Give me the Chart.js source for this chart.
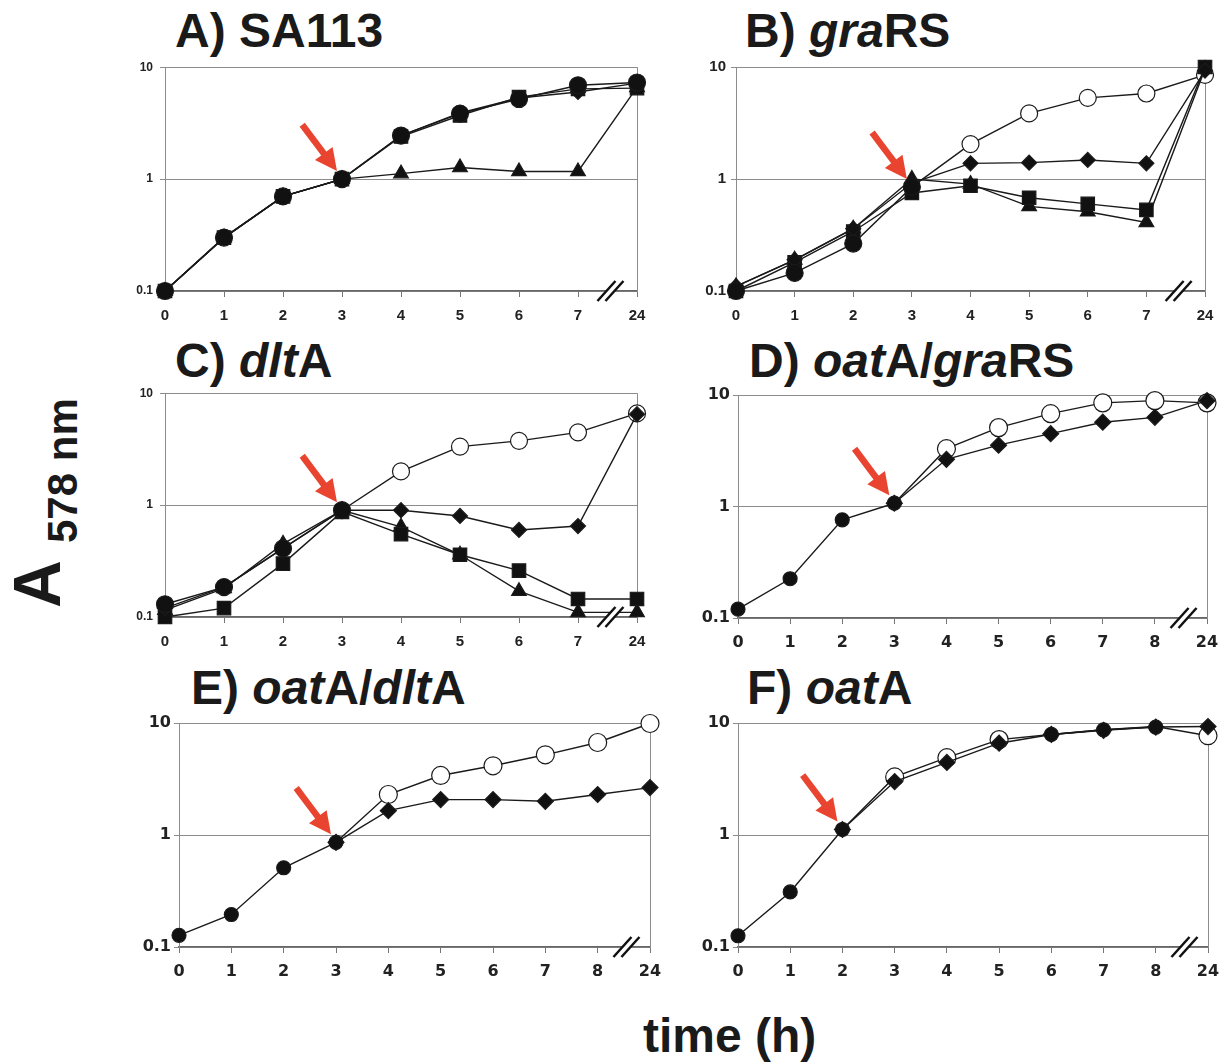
<!DOCTYPE html>
<html><head><meta charset="utf-8">
<script src="https://cdn.jsdelivr.net/npm/chart.js@4.4.1/dist/chart.umd.min.js"></script>
<style>
html,body{margin:0;padding:0;background:#fff;}
#wrap{position:relative;width:1230px;height:1062px;overflow:hidden;background:#fff;}
canvas{position:absolute;}
.ttl{position:absolute;font-family:"Liberation Sans",Arial,sans-serif;font-weight:bold;font-size:48px;line-height:48px;color:#1a1a1a;white-space:nowrap;}
.rot{position:absolute;transform-origin:0 0;transform:rotate(-90deg);font-family:"Liberation Sans",Arial,sans-serif;font-weight:bold;white-space:nowrap;color:#1a1a1a;}
</style></head><body><div id="wrap">
<div class="ttl" style="left:175px;top:7px;">A) SA113</div>
<div class="ttl" style="left:745px;top:7px;">B) <i>gra</i>RS</div>
<div class="ttl" style="left:175px;top:337px;">C) <i>dlt</i>A</div>
<div class="ttl" style="left:749px;top:337px;">D) <i>oat</i>A/<i>gra</i>RS</div>
<div class="ttl" style="left:191px;top:664px;">E) <i>oat</i>A/<i>dlt</i>A</div>
<div class="ttl" style="left:747px;top:664px;">F) <i>oat</i>A</div>
<div class="rot" style="left:4px;top:608px;font-size:66px;line-height:66px;">A</div>
<div class="rot" style="left:42px;top:543px;font-size:42px;line-height:42px;">578 nm</div>
<div class="rot" style="left:643px;top:1012px;font-size:48px;line-height:48px;transform:none;">time (h)</div>
</div>
<script>
const N = null;
// category (time, h) labels
const hoursABC = ['0','1','2','3','4','5','6','7','24'];
const hoursDEF = ['0','1','2','3','4','5','6','7','8','24'];
const yTickValues = [0.1, 1, 10];
const yTickLabels = ['0.1', '1', '10'];

// A) SA113
const a_filled   = [0.1, 0.3, 0.7, 1.0, 2.45, 3.85, 5.2, 6.9, 7.3];
const a_diamond  = [0.1, 0.3, 0.7, 1.0, 2.45, 3.9, 5.3, 6.0, 7.2];
const a_square   = [0.1, 0.3, 0.7, 1.0, 2.4, 3.7, 5.4, 6.4, 6.5];
const a_triangle = [0.1, 0.3, 0.7, 1.0, 1.12, 1.27, 1.17, 1.17, 6.6];
// B) graRS
const b_filled   = [0.1, 0.145, 0.265, 0.85, N, N, N, N, N];
const b_open     = [N, N, N, 0.85, 2.05, 3.85, 5.3, 5.8, 8.5];
const b_diamond  = [0.11, 0.19, 0.36, 0.92, 1.38, 1.4, 1.48, 1.38, 9.3];
const b_square   = [0.1, 0.18, 0.34, 0.75, 0.87, 0.68, 0.6, 0.53, 10];
const b_triangle = [0.11, 0.19, 0.36, 1.0, 0.9, 0.57, 0.51, 0.41, 9.6];
// C) dltA
const c_filled   = [0.13, 0.185, 0.41, 0.9, N, N, N, N, N];
const c_open     = [N, N, N, 0.9, 2.0, 3.33, 3.75, 4.47, 6.6];
const c_diamond  = [0.12, 0.185, 0.41, 0.9, 0.9, 0.8, 0.6, 0.65, 6.5];
const c_square   = [0.1, 0.12, 0.3, 0.87, 0.55, 0.36, 0.26, 0.145, 0.145];
const c_triangle = [0.115, 0.18, 0.45, 0.9, 0.64, 0.36, 0.17, 0.11, 0.11];
// D) oatA/graRS
const d_filled   = [0.12, 0.225, 0.76, 1.07, N, N, N, N, N, N];
const d_open     = [N, N, N, 1.07, 3.3, 5.1, 6.8, 8.5, 8.9, 8.5];
const d_diamond  = [N, N, N, 1.07, 2.65, 3.55, 4.5, 5.7, 6.3, 8.9];
// E) oatA/dltA
const e_filled   = [0.127, 0.195, 0.51, 0.86, N, N, N, N, N, N];
const e_open     = [N, N, N, 0.86, 2.3, 3.4, 4.15, 5.2, 6.7, 9.9];
const e_diamond  = [N, N, N, 0.86, 1.65, 2.07, 2.07, 2.0, 2.3, 2.65];
// F) oatA
const f_filled   = [0.126, 0.31, 1.12, N, N, N, 7.9, 8.7, 9.2, N];
const f_open     = [N, N, 1.12, 3.3, 4.9, 7.1, 7.9, 8.7, 9.3, 7.7];
const f_diamond  = [N, N, 1.12, 3.0, 4.45, 6.6, 7.9, 8.6, 9.2, 9.3];

const panels = [
  {cats:hoursABC, s:{filled:a_filled, diamond:a_diamond, square:a_square, triangle:a_triangle}, arrowAt:3},
  {cats:hoursABC, s:{filled:b_filled, diamond:b_diamond, square:b_square, triangle:b_triangle, open:b_open}, arrowAt:3},
  {cats:hoursABC, s:{filled:c_filled, diamond:c_diamond, square:c_square, triangle:c_triangle, open:c_open}, arrowAt:3},
  {cats:hoursDEF, s:{filled:d_filled, diamond:d_diamond, open:d_open}, arrowAt:3},
  {cats:hoursDEF, s:{filled:e_filled, diamond:e_diamond, open:e_open}, arrowAt:3},
  {cats:hoursDEF, s:{filled:f_filled, diamond:f_diamond, open:f_open}, arrowAt:2}
];

// layout (plot area boxes) and styles
const boxes = [[165,67,637,291],[736,67,1205,291],[165,393,637,617],[738,395,1207,618],[179,723,650,947],[738,723,1208,947]];
const fontSets = [
  {x:{family:'"Liberation Sans", Arial', size:15, weight:'bold'}, y:{family:'"Liberation Sans", Arial', size:12, weight:'bold'}, xpad:10, ypad:7},
  {x:{family:'"Liberation Sans", Arial', size:15, weight:'bold'}, y:{family:'"Liberation Sans", Arial', size:15, weight:'bold'}, xpad:10, ypad:5},
  {x:{family:'"Liberation Sans", Arial', size:15, weight:'bold'}, y:{family:'"Liberation Sans", Arial', size:12, weight:'bold'}, xpad:10, ypad:7},
  {x:{family:'"DejaVu Sans"', size:16, weight:'bold'}, y:{family:'"DejaVu Sans"', size:16, weight:'bold'}, xpad:9, ypad:3},
  {x:{family:'"DejaVu Sans"', size:16, weight:'bold'}, y:{family:'"DejaVu Sans"', size:16, weight:'bold'}, xpad:9, ypad:3},
  {x:{family:'"DejaVu Sans"', size:16, weight:'bold'}, y:{family:'"DejaVu Sans"', size:16, weight:'bold'}, xpad:9, ypad:3}
];
const STY = {
  filled:  {ps:'circle',   r:[8.5,7], bg:'#111'},
  diamond: {ps:'rectRot',  r:[7.5,8], bg:'#111'},
  square:  {ps:'rect',     r:[9.5,9.5], bg:'#111'},
  triangle:{ps:'triangle', r:[8.5,8.5], bg:'#111'},
  open:    {ps:'circle',   r:[8.5,9], bg:'#fff'}
};
const drawOrder = ['filled','diamond','square','triangle','open'];

const framePlugin = {
  id:'frame',
  beforeDatasetsDraw(chart){
    const a = chart.chartArea, c = chart.ctx;
    c.save(); c.strokeStyle = '#8c8c8c'; c.lineWidth = 1;
    c.beginPath(); c.moveTo(a.right+0.5, a.top); c.lineTo(a.right+0.5, a.bottom); c.stroke();
    c.restore();
  }
};
const arrowPlugin = {
  id:'arrow',
  afterDatasetsDraw(chart){
    const idx = chart.options.plugins.arrow.at;
    const p = chart.getDatasetMeta(0).data[idx];
    const c = chart.ctx;
    const tx = p.x - 5, ty = p.y - 8;
    const dx = 0.6, dy = 0.8, len = 58, head = 22, hw = 11;
    const bx = tx - dx*head, by = ty - dy*head;
    c.save();
    c.fillStyle = '#e9442f'; c.strokeStyle = '#e9442f';
    c.lineWidth = 6.5; c.lineCap = 'butt';
    c.beginPath(); c.moveTo(tx - dx*len, ty - dy*len); c.lineTo(bx + dx*2, by + dy*2); c.stroke();
    c.beginPath(); c.moveTo(tx, ty); c.lineTo(bx - dy*hw, by + dx*hw); c.lineTo(bx + dy*hw, by - dx*hw); c.closePath(); c.fill();
    c.restore();
  }
};
const breakPlugin = {
  id:'brk',
  afterDraw(chart){
    const xs = chart.scales.x, n = chart.data.labels.length;
    const xa = xs.getPixelForValue(n-2), xb = xs.getPixelForValue(n-1);
    const cx = xa + 0.55*(xb-xa), cy = chart.chartArea.bottom;
    const c = chart.ctx;
    c.save();
    c.fillStyle = '#fff';
    c.beginPath();
    c.moveTo(cx-12, cy+10); c.lineTo(cx+6, cy-10); c.lineTo(cx+12, cy-10); c.lineTo(cx-6, cy+10); c.closePath(); c.fill();
    c.strokeStyle = '#111'; c.lineWidth = 2.5;
    c.beginPath(); c.moveTo(cx-13, cy+10); c.lineTo(cx+5, cy-10); c.stroke();
    c.beginPath(); c.moveTo(cx-5, cy+10); c.lineTo(cx+13, cy-10); c.stroke();
    c.restore();
  }
};

const wrap = document.getElementById('wrap');
panels.forEach((p, i) => {
  const YW = 60, XH = 42, PT = 14, PR = 22;
  const [l,t,r,b] = boxes[i];
  const W = r-l+YW+PR, H = b-t+PT+XH;
  const cv = document.createElement('canvas');
  cv.width = W; cv.height = H;
  cv.style.left = (l-YW)+'px'; cv.style.top = (t-PT)+'px';
  cv.style.width = W+'px'; cv.style.height = H+'px';
  wrap.appendChild(cv);
  const big = i >= 3 ? 1 : 0;
  const fs = fontSets[i];
  const datasets = [];
  drawOrder.forEach(k => {
    if (!p.s[k]) return;
    const st = STY[k];
    const vals = p.s[k];
    const filledVals = p.s.filled;
    datasets.push({
      label:k, data:vals,
      borderColor:'#1a1a1a', borderWidth:1.4, tension:0, spanGaps:false, clip:false,
      pointStyle:st.ps, backgroundColor:st.bg, pointBackgroundColor:st.bg,
      pointBorderColor:'#1a1a1a', pointBorderWidth:1.2,
      pointRadius: (ctx) => (k === 'open' && filledVals[ctx.dataIndex] != null) ? 0 : st.r[big],
      pointHoverRadius: st.r[big]
    });
  });
  new Chart(cv.getContext('2d'), {
    type:'line',
    data:{labels:p.cats, datasets},
    options:{
      responsive:false, animation:false, devicePixelRatio:1,
      events:[],
      layout:{padding:{top:PT, right:PR, left:0, bottom:0}},
      plugins:{legend:{display:false}, tooltip:{enabled:false}, arrow:{at:p.arrowAt}},
      scales:{
        x:{
          type:'category', offset:false,
          grid:{drawOnChartArea:false, drawTicks:true, tickLength:6, color:'#777'},
          border:{color:'#666', width:1.5},
          ticks:{font:fs.x, color:'#222', padding:fs.xpad, maxRotation:0, autoSkip:false},
          afterFit:(s)=>{ s.height = XH; }
        },
        y:{
          type:'logarithmic', min:0.1, max:10,
          afterBuildTicks:(s)=>{ s.ticks = yTickValues.map(v=>({value:v})); },
          ticks:{font:fs.y, color:'#222', padding:fs.ypad, autoSkip:false,
                 callback:(v)=>{ const j = yTickValues.indexOf(v); return j>=0 ? yTickLabels[j] : ''; }},
          grid:{color:'#8c8c8c', lineWidth:1, tickLength:5},
          border:{color:'#8c8c8c', width:1},
          afterFit:(s)=>{ s.width = YW; }
        }
      }
    },
    plugins:[framePlugin, arrowPlugin, breakPlugin]
  });
});
</script>
</body></html>
